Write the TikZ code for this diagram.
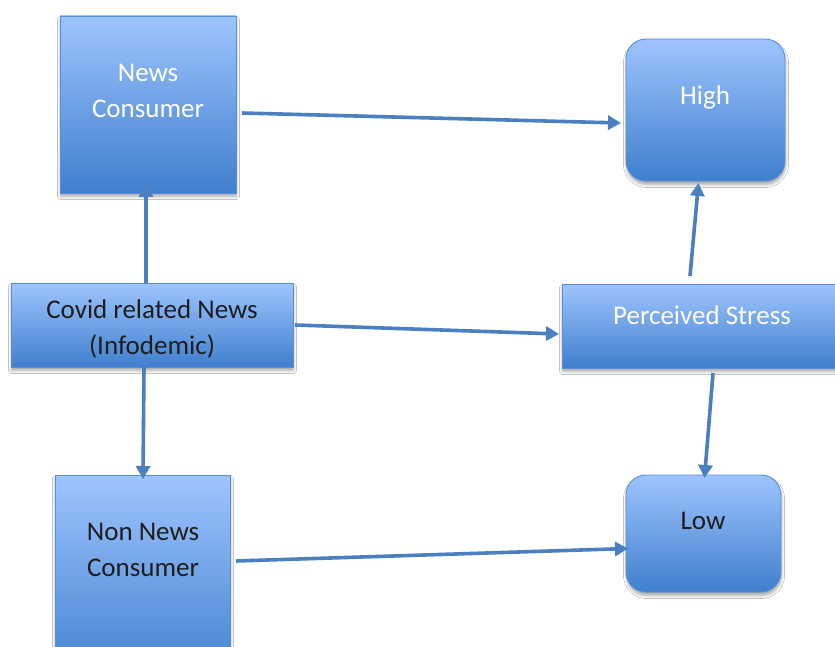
\documentclass[tikz,border=0pt]{standalone}
\usepackage{fontspec}
\setmainfont{Carlito}
\usetikzlibrary{arrows.meta,calc,shadows.blur}

\definecolor{boxtop}{HTML}{9EC4FE}
\definecolor{boxbot}{HTML}{3F7FCD}
\definecolor{boxedge}{HTML}{5A8ED8}
\definecolor{linkblue}{HTML}{4A7FC0}
\definecolor{darktext}{HTML}{1E1E1E}

\tikzset{
  box/.style={draw=boxedge, line width=0.9pt, top color=boxtop, bottom color=boxbot,
    inner sep=0pt, outer sep=0pt,
    blur shadow={shadow xshift=0.5pt, shadow yshift=-3.5pt, shadow blur radius=3pt, shadow opacity=35}},
  sqbox/.style={box},
  rbox/.style={box, rounded corners=20pt},
  lbl/.style={inner sep=0pt, align=center, font=\fontsize{27}{36}\selectfont},
  lightlbl/.style={lbl, text=white},
  darklbl/.style={lbl, text=darktext},
  link/.style={draw=linkblue, line width=3.6pt, -{Triangle[length=13pt,width=14pt]}}
}

\begin{document}
\begin{tikzpicture}[x=1pt, y=-1pt]
  \useasboundingbox (0,0) rectangle (835,647);
  \clip (0,0) rectangle (835,647);
  \fill[white] (0,0) rectangle (835,647);

  % boxes
  \node[sqbox, minimum width=176pt, minimum height=177pt] (nc) at (148,104.5) {};
  \node[rbox, minimum width=159pt, minimum height=142pt] (hi) at (705.5,110) {};
  \node[sqbox, minimum width=282pt, minimum height=84pt] (cv) at (152,325) {};
  \node[sqbox, minimum width=283pt, minimum height=84pt] (ps) at (703.5,326) {};
  \node[sqbox, minimum width=175pt, minimum height=210pt] (nn) at (142.5,580) {};
  \node[rbox, minimum width=155pt, minimum height=117pt] (lo) at (703.5,533.5) {};

  % labels
  \node[lightlbl] (nct) at (148,91) {News\\Consumer};
  \node[lightlbl] (hit) at (705,97) {High};
  \node[darklbl] (cvt) at (152,329) {Covid related News\\(Infodemic)};
  \node[lightlbl] (pst) at (702,315) {Perceived Stress};
  \node[darklbl] (nnt) at (143,550) {Non News\\Consumer};
  \node[darklbl] (lot) at (703,521) {Low};

  % connectors
  \draw[link] ($(nc.east)+(6,8.5)$) -- ($(hi.west)+(-5,13)$);
  \draw[link] ($(cv.north)+(-6,0)$) -- ($(nc.south)+(-2,-9)$);
  \draw[link] ($(cv.south)+(-8,0)$) -- ($(nn.north)+(0.5,4)$);
  \draw[link] ($(cv.east)+(2,0)$) -- ($(ps.west)+(-3,8)$);
  \draw[link] ($(ps.north)+(-13.5,-8)$) -- ($(hi.south)+(-7,2)$);
  \draw[link] ($(ps.south)+(9.5,5)$) -- ($(lo.north)+(1,3)$);
  \draw[link] ($(nn.east)+(6,-19)$) -- ($(lo.west)+(2,15)$);
\end{tikzpicture}
\end{document}
